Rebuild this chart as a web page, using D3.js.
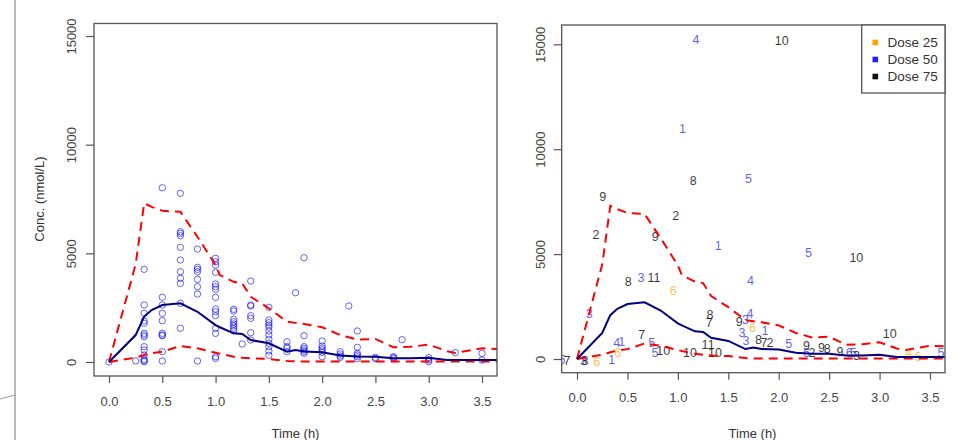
<!DOCTYPE html>
<html>
<head>
<meta charset="utf-8">
<script src="https://cdn.jsdelivr.net/npm/d3@7"></script>
<style>
  body { margin: 0; background: #fff; }
  svg { display: block; font-family: "Liberation Sans", Arial, sans-serif; }
</style>
</head>
<body>
<div id="graph"></div>
<script>
// ---- data ----
// prediction lines (median and 90% interval), same in both panels
var lineTime = [0, 0.25, 0.33, 0.4, 0.5, 0.67, 0.83, 1.0, 1.04, 1.17, 1.25, 1.33, 1.5, 1.67, 1.75, 1.83, 2.0, 2.17, 2.33, 2.5, 2.67, 2.83, 3.0, 3.17, 3.25, 3.5, 3.7];
var medianConc = [0, 1240, 2090, 2390, 2620, 2700, 2310, 1700, 1600, 1320, 1290, 1010, 860, 475, 550, 480, 450, 300, 250, 245, 170, 170, 200, 90, 90, 90, 90];
var upperConc = [0, 4500, 7300, 7140, 6960, 6910, 5760, 4460, 4000, 3690, 3620, 3000, 2470, 1855, 1800, 1750, 1600, 1240, 1030, 1060, 680, 700, 800, 500, 420, 630, 590];
var lowerConc = [0, 200, 320, 400, 470, 740, 630, 430, 380, 245, 200, 170, 140, 45, 30, 20, 20, 20, 20, 20, 20, 20, 20, 20, 20, 20, 20];

// observed concentrations, left panel (grouped by nominal time)
var obsTime = [0, 0.25, 0.33, 0.5, 0.67, 0.83, 1.0, 1.17, 1.25, 1.33, 1.5, 1.67, 1.75, 1.83, 2.0, 2.17, 2.25, 2.33, 2.5, 2.67, 2.75, 3.0, 3.25, 3.5];
var obsConc = [
  [0],
  [50],
  [4264, 2622, 2240, 1886, 1780, 1320, 1242, 1164, 704, 552, 322, 124, 60, 14],
  [8018, 2976, 2622, 2240, 1900, 1320, 1242, 1210, 474, 46],
  [7760, 5994, 5920, 5810, 5276, 4692, 4154, 3850, 3620, 2700, 1550],
  [5198, 4356, 4264, 4154, 3804, 3464, 3128, 46],
  [4770, 4614, 4462, 4126, 3588, 3464, 3344, 2976, 2438, 2314, 2130, 1550, 1320, 244, 170],
  [2424, 2346, 1964, 1854, 1748, 1656, 1550, 1442],
  [828],
  [3726, 2622, 2576, 2130, 2010, 1348, 1012],
  [2516, 1932, 1808, 1702, 1596, 1426, 1242, 1044, 860, 704, 506, 308],
  [934, 704, 630, 474],
  [3188],
  [4798, 1210, 704, 630, 552, 474, 400],
  [966, 736, 630, 552, 446, 244],
  [475, 368, 276, 215],
  [2577],
  [1427, 675, 399, 322, 245, 153],
  [215, 153],
  [245, 200, 153],
  [1028],
  [200, 92, 15],
  [430],
  [400, 92]
];

// subject labels, right panel
var labId   = ["4","10","1","8","5","9","2","2","9","1","5","10","4","8","3","11","6","3","8","7","9","3","4","6","3","3","1","8","7","2","5","9","6","2","9","8","9","6","5","3","10","4","6","5","7","5","3","8","6","1","4","1","6","7","5","5","10","10","11","10"];
var labTime = [1.18,2.03,1.047,1.153,1.70,0.255,0.978,0.188,0.776,1.40,2.296,2.77,1.72,0.509,0.634,0.763,0.955,0.122,1.318,1.311,1.608,1.67,1.715,1.74,1.635,1.675,1.863,1.80,1.853,1.913,2.10,2.276,2.276,2.33,2.425,2.48,2.607,2.70,2.74,2.77,3.10,3.29,3.38,3.61,-0.10,-0.15,0.063,0.08,0.195,0.344,0.393,0.443,0.403,0.641,0.74,0.773,0.855,1.12,1.30,1.368];
var labConc = [15205,15170,10950,8500,8565,7707,6816,5896,5800,5400,5067,4800,3718,3656,3875,3875,3241,2130,2097,1700,1750,1880,2130,1460,1225,873,1350,905,777,777,720,635,300,300,540,460,320,290,290,140,1190,270,110,270,-80,-50,-80,-80,-130,-50,750,825,270,1144,750,270,380,270,667,300];
var labDose = [50,75,50,75,50,75,75,75,75,50,50,75,50,75,50,75,25,50,75,75,75,50,50,25,50,50,50,75,75,75,50,75,50,75,75,75,75,50,50,75,75,25,25,50,75,50,50,75,25,50,50,50,25,75,50,50,75,75,75,75];

var doseLevels = [25, 50, 75];
var doseNames = ["Dose 25", "Dose 50", "Dose 75"];
var doseColors = ["#ffa500", "#2020ff", "#111111"];

var xTicks = [0, 0.5, 1, 1.5, 2, 2.5, 3, 3.5];
var yTicks = [0, 5000, 10000, 15000];

// ---- drawing ----
var width = 970, height = 440;
var svg = d3.select("#graph").append("svg")
    .attr("width", width)
    .attr("height", height);

svg.append("rect").attr("width", width).attr("height", height).attr("fill", "#fff");

// slide artefacts on the left edge
svg.append("line").attr("x1", 15).attr("y1", 0).attr("x2", 15).attr("y2", height)
    .attr("stroke", "#a0a0a0").attr("stroke-width", 1.5);
svg.append("line").attr("x1", 0).attr("y1", 399).attr("x2", 15).attr("y2", 395)
    .attr("stroke", "#a0a0a0").attr("stroke-width", 1.2);

var doseColor = d3.scaleOrdinal().domain(doseLevels).range(doseColors);

function makePanel(cfg) {
    var g = svg.append("g");
    var x = d3.scaleLinear().domain([0, 3.5]).range([cfg.x0, cfg.x35]);
    var y = d3.scaleLinear().domain([0, 15000]).range([cfg.y0, cfg.y15]);

    var clipId = "clip" + cfg.id;
    svg.append("clipPath").attr("id", clipId).append("rect")
        .attr("x", cfg.left).attr("y", cfg.top)
        .attr("width", cfg.right - cfg.left).attr("height", cfg.bottom - cfg.top);

    var plot = g.append("g").attr("clip-path", "url(#" + clipId + ")");

    // x axis
    var xAxis = g.append("g")
        .attr("transform", "translate(0," + cfg.bottom + ")")
        .call(d3.axisBottom(x).tickValues(xTicks).tickFormat(d3.format(".1f"))
            .tickSize(7).tickPadding(cfg.xPad));
    xAxis.select(".domain").remove();

    // y axis, labels rotated like R's default
    var yAxis = g.append("g")
        .attr("transform", "translate(" + cfg.left + ",0)")
        .call(d3.axisLeft(y).tickValues(yTicks).tickFormat(d3.format("d")).tickSize(8));
    yAxis.select(".domain").remove();
    yAxis.selectAll("text")
        .attr("transform", "rotate(-90)")
        .attr("x", 0)
        .attr("y", -cfg.yLab)
        .attr("dy", null)
        .attr("text-anchor", "middle")
        .attr("dominant-baseline", "central");

    g.selectAll(".tick line").attr("stroke", "#555").attr("stroke-width", 1.2);
    g.selectAll(".tick text").attr("fill", "#444").style("font-size", "13px")
        .style("font-family", "'Liberation Sans', Arial, sans-serif");

    // box
    g.append("rect")
        .attr("x", cfg.left).attr("y", cfg.top)
        .attr("width", cfg.right - cfg.left).attr("height", cfg.bottom - cfg.top)
        .attr("fill", "none").attr("stroke", "#555").attr("stroke-width", 1.3);

    // x title
    g.append("text")
        .attr("x", (cfg.x0 + cfg.x35) / 2 + cfg.titleShift)
        .attr("y", 433)
        .attr("text-anchor", "middle")
        .attr("dominant-baseline", "central")
        .attr("fill", "#333")
        .style("font-size", "13px")
        .text("Time (h)");

    return { plot: plot, x: x, y: y };
}

function drawLines(p) {
    var idx = d3.range(lineTime.length);
    var line = function(vals) {
        return d3.line().x(function(i) { return p.x(lineTime[i]); })
            .y(function(i) { return p.y(vals[i]); })(idx);
    };
    [upperConc, lowerConc].forEach(function(vals) {
        p.plot.append("path").attr("d", line(vals))
            .attr("fill", "none").attr("stroke", "#ff0000")
            .attr("stroke-width", 2).attr("stroke-dasharray", "9,6");
    });
    p.plot.append("path").attr("d", line(medianConc))
        .attr("fill", "none").attr("stroke", "#000080").attr("stroke-width", 2);
}

// left panel: observed data as open circles
var left = makePanel({ id: "L", left: 94, right: 497, top: 23.5, bottom: 376,
    x0: 109, x35: 482, y0: 362, y15: 36, xPad: 14, yLab: 23, titleShift: 0 });

var obs = [];
obsTime.forEach(function(t, i) {
    obsConc[i].forEach(function(c) { obs.push({ t: t, c: c }); });
});

left.plot.selectAll("circle")
    .data(obs)
    .enter().append("circle")
    .attr("cx", function(d) { return left.x(d.t); })
    .attr("cy", function(d) { return left.y(d.c); })
    .attr("r", 3.2)
    .attr("fill", "none")
    .attr("stroke", "#0000ff")
    .attr("stroke-opacity", 0.6)
    .attr("stroke-width", 1);

drawLines(left);

svg.append("text")
    .attr("transform", "translate(39,199) rotate(-90)")
    .attr("text-anchor", "middle")
    .attr("dominant-baseline", "central")
    .attr("fill", "#333")
    .style("font-size", "13px")
    .text("Conc. (nmol/L)");

// right panel: subject ids coloured by dose
var right = makePanel({ id: "R", left: 561.7, right: 945, top: 25, bottom: 372.7,
    x0: 577, x35: 930, y0: 359, y15: 44.3, xPad: 13, yLab: 21, titleShift: -1 });

var labs = labId.map(function(id, i) {
    return { id: id, t: labTime[i], c: labConc[i], dose: labDose[i] };
});

right.plot.selectAll("text.lab")
    .data(labs)
    .enter().append("text")
    .attr("class", "lab")
    .attr("x", function(d) { return right.x(d.t); })
    .attr("y", function(d) { return right.y(d.c); })
    .attr("text-anchor", "middle")
    .attr("dominant-baseline", "central")
    .attr("fill", function(d) { return doseColor(d.dose); })
    .attr("fill-opacity", function(d) { return d.dose === 75 ? 0.85 : 0.72; })
    .style("font-size", "12.5px")
    .text(function(d) { return d.id; });

drawLines(right);

// legend
var legend = svg.append("g");
legend.append("rect")
    .attr("x", 861.7).attr("y", 25).attr("width", 83.3).attr("height", 68)
    .attr("fill", "#fff").attr("stroke", "#555").attr("stroke-width", 1.3);

doseNames.forEach(function(name, i) {
    var yy = 42.5 + i * 17;
    legend.append("rect")
        .attr("x", 872.5).attr("y", yy - 2.8).attr("width", 5.6).attr("height", 5.6)
        .attr("fill", doseColors[i]);
    legend.append("text")
        .attr("x", 887.5).attr("y", yy)
        .attr("dominant-baseline", "central")
        .attr("fill", "#333")
        .style("font-size", "13.5px")
        .text(name);
});
</script>
</body>
</html>
